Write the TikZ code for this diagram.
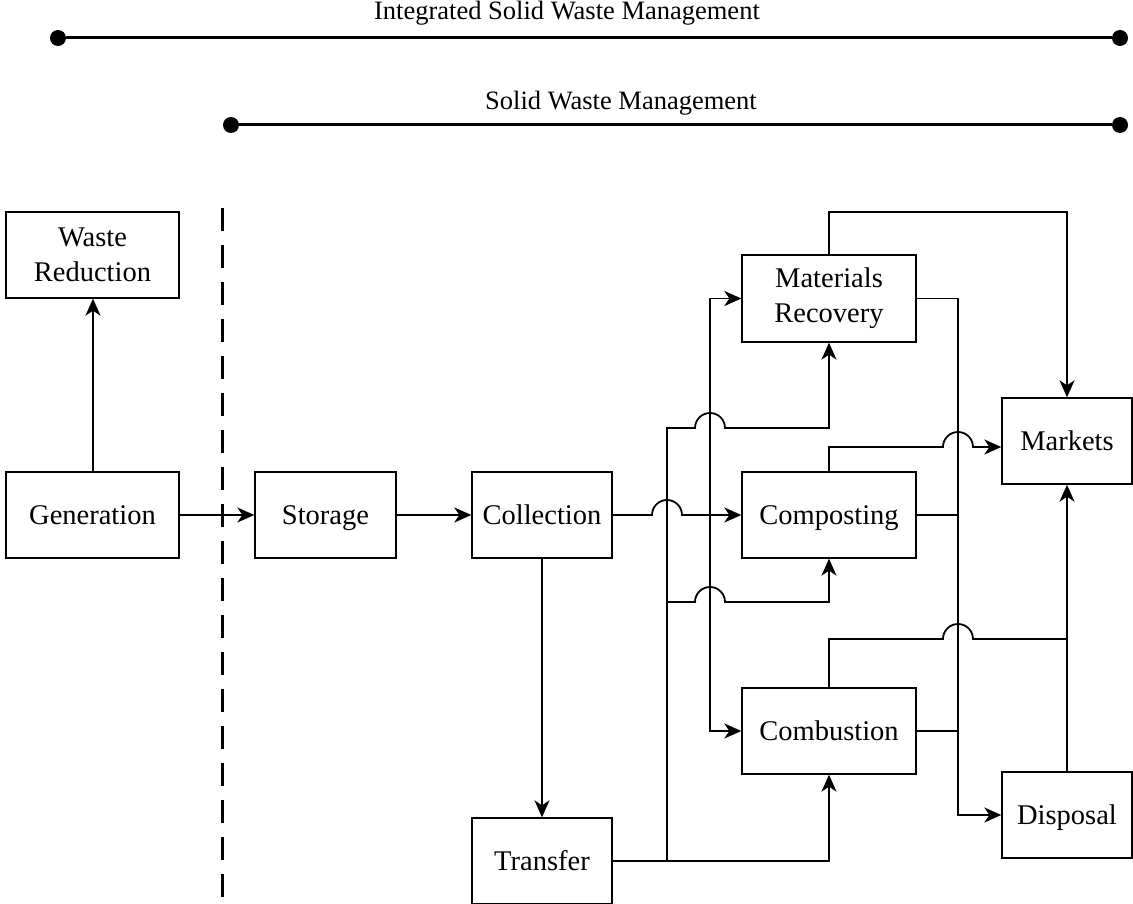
\documentclass[tikz,border=0pt]{standalone}
\usepackage{fontspec}
\setmainfont{Liberation Serif}
\usetikzlibrary{arrows.meta}
\begin{document}
\begin{tikzpicture}[x=1pt,y=-1pt,
  box/.style={draw,line width=1.3pt,minimum width=#1,minimum height=86pt,inner sep=0pt,align=center,
    font=\fontsize{28.5}{35}\selectfont},
  one/.style={text height=19pt,text depth=1pt},
  conn/.style={line width=1.8pt},
  arr/.style={conn,-{Stealth[length=17pt,width=15pt,inset=5pt]}},
  bar/.style={line width=3pt},
  dot/.style={circle,fill=black,inner sep=0pt,minimum size=16pt},
  lbl/.style={font=\fontsize{26.5}{30}\selectfont,inner sep=0pt}]
\useasboundingbox (0,0) rectangle (1133,904);
% top bars
\node[dot] (d1) at (58,38) {};
\node[dot] (d2) at (1120,38) {};
\draw[bar] (d1) -- (d2);
\node[lbl] (l1) at (567,13) {Integrated Solid Waste Management};
\node[dot] (d3) at (231,125) {};
\node[dot] (d4) at (1120,125) {};
\draw[bar] (d3) -- (d4);
\node[lbl] (l2) at (621,103) {Solid Waste Management};
% dashed divider
\coordinate (dv1) at (222,208);
\coordinate (dv2) at (222,900);
\draw[line width=3pt,dash pattern=on 23pt off 14pt] (dv1) -- (dv2);
% boxes
\node[box=173pt] (wr) at (92.5,255) {Waste\\Reduction};
\node[box=173pt,one] (gen) at (92.5,515) {Generation};
\node[box=141pt,one] (sto) at (325.5,515) {Storage};
\node[box=140pt,one] (col) at (542,515) {Collection};
\node[box=140pt,one] (tra) at (542,861) {Transfer};
\node[box=174pt,minimum height=87pt] (mr) at (829,298.5) {Materials\\Recovery};
\node[box=174pt,one] (comp) at (829,515) {Composting};
\node[box=174pt,one] (comb) at (829,731) {Combustion};
\node[box=130pt,one] (mkt) at (1067,441) {Markets};
\node[box=130pt,one] (dis) at (1067,815) {Disposal};
% simple connectors
\draw[arr] ([xshift=0.5pt]gen.north) -- ([xshift=0.5pt]wr.south);
\draw[arr] (gen.east) -- (sto.west);
\draw[arr] (sto.east) -- (col.west);
\draw[arr] (col.south) -- (tra.north);
% collection output
\coordinate (j1) at (710,515);
\draw[arr] (col.east) -- (652,515) arc[start angle=180,end angle=360,radius=15] -- (comp.west);
\draw[arr] (j1) |- (mr.west);
\draw[arr] (j1) |- (comb.west);
% transfer output
\coordinate (t1) at (667,861);
\draw[conn] (tra.east) -- (t1);
\draw[arr] (t1) -- (667,428) -- (695,428) arc[start angle=180,end angle=360,radius=15] -- (829,428) -- (mr.south);
\draw[arr] (667,602) -- (695,602) arc[start angle=180,end angle=360,radius=15] -- (829,602) -- (comp.south);
\draw[arr] (t1) -| (comb.south);
% outputs to markets / disposal
\coordinate (bus) at (958,0);
\draw[arr] (mr.north) -- (829,212) -| (mkt.north);
\draw[arr] (mr.east) -| (bus |- dis.west) -- (dis.west);
\draw[conn] (comp.east) -- (bus |- comp.east);
\draw[conn] (comb.east) -- (bus |- comb.east);
\draw[arr] (comp.north) -- (829,447) -- (943,447) arc[start angle=180,end angle=360,radius=15] -- (mkt.west |- 0,447);
\draw[arr] (dis.north) -- (mkt.south);
\draw[conn] (comb.north) -- (829,639) -- (943,639) arc[start angle=180,end angle=360,radius=15] -- (1067,639);
\end{tikzpicture}
\end{document}
